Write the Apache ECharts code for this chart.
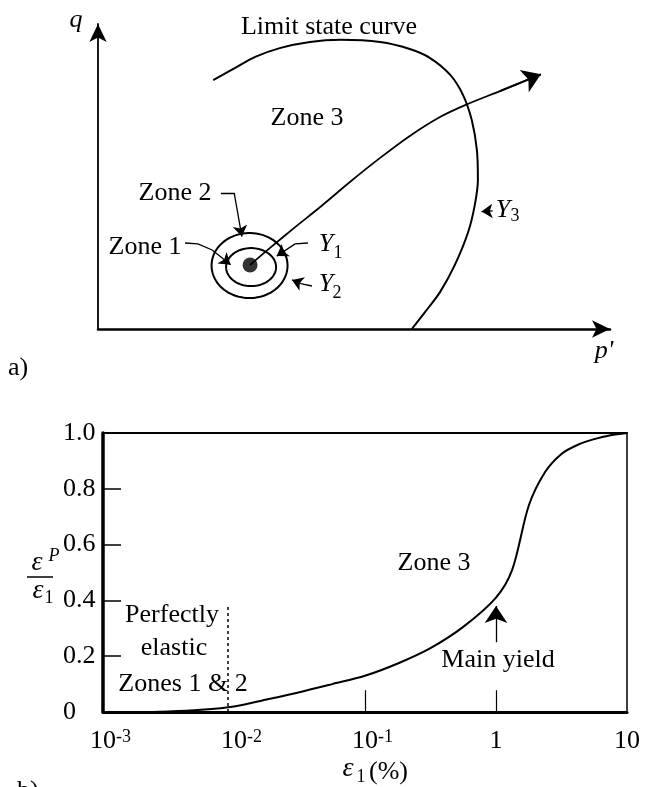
<!DOCTYPE html>
<html>
<head>
<meta charset="utf-8">
<script src="https://cdn.jsdelivr.net/npm/echarts@6/dist/echarts.min.js"></script>
<style>
  html, body { margin: 0; padding: 0; background: #fff; }
  #chart { width: 654px; height: 787px; }
</style>
</head>
<body>
<div id="chart"></div>
<script>
// ---- Panel (a): yield zones in p'-q space (schematic units 0-100) ----
const limitStateCurve = [[22.5,81.6],[26.8,85.6],[30.7,89.2],[35.5,92.1],[41.4,94.1],[47.3,94.8],[55.1,94.1],[60.9,91.8],[64.8,88.9],[68.8,83.3],[71.3,76.7],[73.0,68.5],[74.0,58.7],[74.2,48.9],[73.6,40.7],[72.3,31.8],[69.7,21.0],[66.8,12.1],[63.9,5.6],[61.3,0]];
const stressPath = [[29.7,21.0],[33.6,26.6],[38.5,33.4],[43.4,40.0],[49.2,48.2],[55.1,56.1],[60.9,63.3],[66.8,69.5],[71.7,73.4],[78.5,78.0],[86.5,83.5]];
const currentState = [29.7, 21.0];
// yield surfaces Y1 (inner) and Y2 (outer): centre x, centre y, radius x, radius y
const yieldSurfaces = [[29.9, 20.3, 4.88, 6.23], [29.6, 20.8, 7.42, 10.66]];
// leader lines for the zone / yield-surface labels; the last segment of each ends in an arrow
const leaderSegments = [
  [[24.0,44.6],[26.6,44.6]],
  [[17.0,28.2],[19.5,27.9]], [[19.5,27.9],[22.3,25.9]],
  [[41.0,28.2],[38.5,27.9]],
  [[41.8,14.1],[39.8,14.8]]
];
const leaderArrows = [
  [[26.6,44.6],[28.1,30.3]],
  [[22.3,25.9],[25.9,21.1]],
  [[38.5,27.9],[34.9,23.9]],
  [[39.8,14.8],[37.9,16.1]],
  [[77.1,38.7],[74.9,38.5]]
];

// ---- Panel (b): plastic strain ratio against axial strain ----
const axialStrainPct = [0.001, 0.00178, 0.00316, 0.00562, 0.01, 0.0178, 0.0316, 0.0562, 0.1, 0.178, 0.316, 0.562, 1.0, 1.33, 1.78, 2.37, 3.16, 4.22, 5.62, 7.5, 10];
const plasticRatio   = [0, 0, 0.002, 0.008, 0.02, 0.045, 0.071, 0.100, 0.13, 0.174, 0.229, 0.305, 0.41, 0.51, 0.74, 0.86, 0.925, 0.958, 0.978, 0.992, 1.0];
const xTickText = { '-3': ['10', '-3'], '-2': ['10', '-2'], '-1': ['10', '-1'], '0': ['1', ''], '1': ['10', ''] };
const yTickText = { 0: '0', 0.2: '0.2', 0.4: '0.4', 0.6: '0.6', 0.8: '0.8', 1: '1.0' };
const mainYieldStrain = 1;
const elasticLimitStrain = 0.009;
const markedStrains = [0.1, 1];

const SERIF = '"Liberation Serif", "DejaVu Serif", serif';
const FS = 26, FS_SMALL = 18;

function txt(x, y, text, opt) {
  opt = opt || {};
  const size = opt.size || FS;
  const style = opt.italic ? 'italic ' : '';
  return {
    type: 'text', x: x, y: y, silent: true,
    style: {
      text: text, font: style + size + 'px ' + SERIF, fill: '#000',
      align: opt.align || 'center', verticalAlign: 'middle',
      textAlign: opt.align || 'center', textVerticalAlign: 'middle'
    }
  };
}

const yieldIdx = axialStrainPct.indexOf(mainYieldStrain);
const yieldRatio = plasticRatio[yieldIdx];

const chart = echarts.init(document.getElementById('chart'), null, { renderer: 'canvas' });

const hiddenAxisBits = { axisTick: { show: false }, axisLabel: { show: false }, splitLine: { show: false } };

chart.setOption({
  animation: false,
  backgroundColor: '#fff',
  grid: [
    { left: 98, top: 24, width: 512, height: 305 },
    { left: 103, top: 433, width: 524, height: 279 }
  ],
  xAxis: [
    Object.assign({ gridIndex: 0, type: 'value', min: 0, max: 100,
      axisLine: { onZero: false, symbol: ['none', 'arrow'], symbolSize: [13, 18], lineStyle: { color: '#000', width: 2.5 } } }, hiddenAxisBits),
    { gridIndex: 1, type: 'log', logBase: 10, min: 0.001, max: 10, position: 'bottom',
      axisLine: { onZero: false, lineStyle: { color: '#000', width: 3 } },
      axisTick: { show: false }, splitLine: { show: false },
      axisLabel: {
        margin: 16, color: '#000', fontFamily: SERIF,
        formatter: function (v) {
          const e = String(Math.round(Math.log10(v)));
          const t = xTickText[e];
          return t[1] ? '{p|}{b|' + t[0] + '}{s|' + t[1] + '}' : '{b|' + t[0] + '}';
        },
        rich: {
          p: { width: 15 },
          b: { fontSize: FS, fontFamily: SERIF, lineHeight: FS, padding: [6, 0, 0, 0], verticalAlign: 'bottom', color: '#000' },
          s: { fontSize: FS_SMALL, fontFamily: SERIF, lineHeight: FS_SMALL, verticalAlign: 'top', color: '#000' }
        }
      } },
    Object.assign({ gridIndex: 1, type: 'value', min: 0, max: 1, position: 'top',
      axisLine: { onZero: false, lineStyle: { color: '#000', width: 2 } } }, hiddenAxisBits)
  ],
  yAxis: [
    Object.assign({ gridIndex: 0, type: 'value', min: 0, max: 100,
      axisLine: { onZero: false, symbol: ['none', 'arrow'], symbolSize: [13, 18], lineStyle: { color: '#000', width: 1.8 } } }, hiddenAxisBits),
    { gridIndex: 1, type: 'value', min: 0, max: 1, interval: 0.2, position: 'left',
      axisLine: { onZero: false, lineStyle: { color: '#000', width: 3.5 } },
      axisTick: { inside: true, length: 18, lineStyle: { color: '#000', width: 1.5 } },
      splitLine: { show: false },
      axisLabel: { margin: 40, align: 'left', color: '#000', fontFamily: SERIF, fontSize: FS,
        formatter: function (v) { return yTickText[Math.round(v * 10) / 10]; } } },
    Object.assign({ gridIndex: 1, type: 'value', min: 0, max: 1, position: 'right',
      axisLine: { onZero: false, lineStyle: { color: '#000', width: 1.5 } } }, hiddenAxisBits)
  ],
  series: [
    { name: 'Limit state curve', type: 'line', xAxisIndex: 0, yAxisIndex: 0, data: limitStateCurve,
      smooth: 0.3, showSymbol: false, silent: true, lineStyle: { color: '#000', width: 2 } },
    { name: 'Stress path', type: 'line', xAxisIndex: 0, yAxisIndex: 0, data: stressPath,
      smooth: 0.3, showSymbol: false, silent: true, lineStyle: { color: '#000', width: 1.8 } },
    { name: 'Stress path head', type: 'lines', coordinateSystem: 'cartesian2d', xAxisIndex: 0, yAxisIndex: 0,
      data: [{ coords: stressPath.slice(-2) }], symbol: ['none', 'arrow'], symbolSize: 18, silent: true,
      lineStyle: { color: '#000', width: 1.8, opacity: 1 } },
    { name: 'Yield surfaces', type: 'custom', xAxisIndex: 0, yAxisIndex: 0, data: yieldSurfaces,
      encode: { x: 0, y: 1 }, silent: true,
      renderItem: function (params, api) {
        const c = api.coord([api.value(0), api.value(1)]);
        const r = api.size([api.value(2), api.value(3)]);
        const pts = [];
        for (let k = 0; k <= 90; k++) {
          const t = k / 90 * Math.PI * 2;
          pts.push([c[0] + r[0] * Math.cos(t), c[1] + r[1] * Math.sin(t)]);
        }
        return { type: 'polygon', shape: { points: pts }, style: { fill: 'none', stroke: '#000', lineWidth: 2 } };
      } },
    { name: 'Current state', type: 'scatter', xAxisIndex: 0, yAxisIndex: 0, data: [currentState],
      symbol: 'circle', symbolSize: 15, silent: true, itemStyle: { color: '#000' } },
    { name: 'Leaders', type: 'lines', coordinateSystem: 'cartesian2d', xAxisIndex: 0, yAxisIndex: 0,
      data: leaderSegments.map(function (s) { return { coords: s }; }), symbol: 'none', silent: true,
      lineStyle: { color: '#000', width: 1.3, opacity: 1 } },
    { name: 'Leader heads', type: 'lines', coordinateSystem: 'cartesian2d', xAxisIndex: 0, yAxisIndex: 0,
      data: leaderArrows.map(function (s) { return { coords: s }; }), symbol: ['none', 'arrow'], symbolSize: 11, silent: true,
      lineStyle: { color: '#000', width: 1.3, opacity: 1 } },

    { name: 'Plastic strain ratio', type: 'line', xAxisIndex: 1, yAxisIndex: 1,
      data: axialStrainPct.map(function (x, i) { return [x, plasticRatio[i]]; }),
      smooth: 0.3, showSymbol: false, silent: true,
      lineStyle: { color: '#000', width: 2 },
      markLine: {
        silent: true, symbol: 'none', animation: false, label: { show: false },
        data: [
          [ { coord: [mainYieldStrain, 0.25], symbol: 'none', lineStyle: { color: '#000', width: 1.3, type: 'solid' } },
            { coord: [mainYieldStrain, yieldRatio - 0.03], symbol: 'arrow', symbolSize: 17 } ],
          [ { coord: [elasticLimitStrain, 0], symbol: 'none', lineStyle: { color: '#000', width: 1.5, type: [3, 3] } },
            { coord: [elasticLimitStrain, 0.38], symbol: 'none' } ]
        ].concat(markedStrains.map(function (x) {
          return [ { coord: [x, 0], symbol: 'none', lineStyle: { color: '#000', width: 1.2, type: 'solid' } },
                   { coord: [x, 0.078], symbol: 'none' } ];
        }))
      } }
  ],
  graphic: { elements: [
    // panel (a)
    txt(76, 20, 'q', { italic: true }),
    txt(604, 351, "p'", { italic: true }),
    txt(8, 368, 'a)', { align: 'left' }),
    txt(329, 27, 'Limit state curve'),
    txt(307, 118, 'Zone 3'),
    txt(175, 193, 'Zone 2'),
    txt(145, 247, 'Zone 1'),
    txt(326, 244, 'Y', { italic: true }), txt(338, 253, '1', { size: FS_SMALL }),
    txt(326, 284, 'Y', { italic: true }), txt(337, 293, '2', { size: FS_SMALL }),
    txt(503, 210, 'Y', { italic: true }), txt(515, 216, '3', { size: FS_SMALL }),
    // panel (b)
    txt(434, 563, 'Zone 3'),
    txt(172, 615, 'Perfectly'),
    txt(174, 648, 'elastic'),
    txt(183, 684, 'Zones 1 & 2'),
    txt(498, 660, 'Main yield'),
    txt(37, 563, 'ε', { italic: true, size: 28 }), txt(54, 556, 'P', { italic: true, size: FS_SMALL }),
    { type: 'line', silent: true, shape: { x1: 27, y1: 577, x2: 53, y2: 577 }, style: { stroke: '#000', lineWidth: 1.5 } },
    txt(38, 591, 'ε', { italic: true, size: 28 }), txt(49, 598, '1', { size: FS_SMALL }),
    txt(348, 769, 'ε', { italic: true, size: 28 }), txt(361, 777, '1', { size: FS_SMALL }),
    txt(369, 772, '(%)', { align: 'left' }),
    txt(17, 791, 'b)', { align: 'left' })
  ] }
});
</script>
</body>
</html>
